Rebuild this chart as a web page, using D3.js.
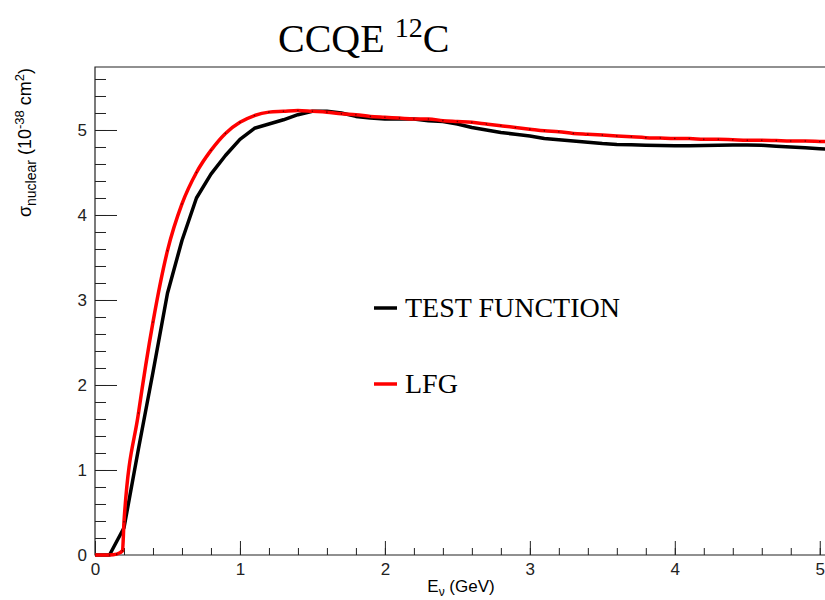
<!DOCTYPE html>
<html>
<head>
<meta charset="utf-8">
<script src="https://cdn.jsdelivr.net/npm/d3@7"></script>
<style>
  body { margin: 0; background: #fff; }
  .axis path { display: none; }
  .axis line { stroke: #222; stroke-width: 1; }
  .axis text { font-family: "Liberation Sans", Arial, sans-serif; font-size: 17px; fill: #222; }
</style>
</head>
<body>
<svg id="myGraph" width="825" height="600"></svg>
<script>
// data
var testEnergy = [0, 0.1, 0.2, 0.3, 0.4, 0.5, 0.6, 0.7, 0.8, 0.9, 1.0, 1.1, 1.2, 1.3, 1.4, 1.5, 1.6, 1.7, 1.8, 1.9,
                  2.0, 2.1, 2.2, 2.3, 2.4, 2.5, 2.6, 2.7, 2.8, 2.9, 3.0, 3.1, 3.2, 3.3, 3.4, 3.5, 3.6, 3.7, 3.8, 3.9,
                  4.0, 4.1, 4.2, 4.3, 4.4, 4.5, 4.6, 4.7, 4.8, 4.9, 5.0, 5.1];
var testXsec = [0, 0, 0.32, 1.25, 2.15, 3.08, 3.70, 4.20, 4.48, 4.70, 4.89, 5.02, 5.07, 5.12, 5.18, 5.22, 5.22, 5.20, 5.16, 5.14,
                5.13, 5.13, 5.13, 5.11, 5.10, 5.07, 5.03, 5.00, 4.97, 4.95, 4.93, 4.90, 4.885, 4.87, 4.855, 4.84, 4.83, 4.825, 4.82, 4.817,
                4.815, 4.815, 4.817, 4.82, 4.822, 4.822, 4.82, 4.81, 4.80, 4.79, 4.78, 4.77];

var lfgEnergy = [0, 0.1, 0.15, 0.19, 0.2, 0.3, 0.4, 0.5, 0.6, 0.7, 0.8, 0.9, 1.0, 1.1, 1.2, 1.3, 1.4, 1.5, 1.6, 1.7, 1.8, 1.9,
                 2.0, 2.1, 2.2, 2.3, 2.4, 2.5, 2.6, 2.7, 2.8, 2.9, 3.0, 3.1, 3.2, 3.3, 3.4, 3.5, 3.6, 3.7, 3.8, 3.9,
                 4.0, 4.1, 4.2, 4.3, 4.4, 4.5, 4.6, 4.7, 4.8, 4.9, 5.0, 5.1];
var lfgXsec = [0, 0, 0.01, 0.05, 0.39, 1.67, 2.74, 3.58, 4.13, 4.50, 4.76, 4.96, 5.09, 5.17, 5.21, 5.22, 5.23, 5.22, 5.21, 5.19, 5.18, 5.16,
               5.15, 5.14, 5.13, 5.13, 5.11, 5.10, 5.09, 5.07, 5.05, 5.03, 5.01, 4.99, 4.98, 4.96, 4.95, 4.94, 4.93, 4.92, 4.91, 4.905,
               4.90, 4.90, 4.89, 4.89, 4.885, 4.88, 4.88, 4.875, 4.87, 4.87, 4.865, 4.86];

var legendNames = ["TEST FUNCTION", "LFG"];
var xTicks = [0, 1, 2, 3, 4, 5];
var yTicks = [0, 1, 2, 3, 4, 5];

var svg = d3.select("#myGraph");

// plot frame (pixels)
var plotL = 95, plotR = 827, plotT = 67, plotB = 555;

var x = d3.scaleLinear().domain([0, 5.05]).range([plotL, plotR]);
var y = d3.scaleLinear().domain([0, 5.741]).range([plotB, plotT]);

// minor ticks (every 0.2), drawn first
svg.append("g")
  .attr("class", "axis")
  .attr("transform", "translate(0," + plotB + ")")
  .call(d3.axisBottom(x).tickValues(d3.range(0.2, 5.05, 0.2)).tickSizeInner(-7).tickSizeOuter(0).tickFormat(""));
svg.append("g")
  .attr("class", "axis")
  .attr("transform", "translate(" + plotL + ",0)")
  .call(d3.axisLeft(y).tickValues(d3.range(0.2, 5.7, 0.2)).tickSizeInner(-11).tickSizeOuter(0).tickFormat(""));

// major ticks with labels
svg.append("g")
  .attr("class", "axis")
  .attr("transform", "translate(0," + plotB + ")")
  .call(d3.axisBottom(x).tickValues(xTicks).tickSizeInner(-14).tickSizeOuter(0).tickPadding(8).tickFormat(d3.format("d")));
svg.append("g")
  .attr("class", "axis")
  .attr("transform", "translate(" + plotL + ",0)")
  .call(d3.axisLeft(y).tickValues(yTicks).tickSizeInner(-22).tickSizeOuter(0).tickPadding(8).tickFormat(d3.format("d")));

// frame lines
svg.append("path")
  .attr("d", "M" + plotR + "," + plotT + "H" + plotL + "V" + plotB + "H" + plotR)
  .attr("fill", "none")
  .attr("stroke", "#222")
  .attr("stroke-width", 1.2);

// clip region for curves
svg.append("clipPath").attr("id", "plotClip")
  .append("rect").attr("x", plotL).attr("y", plotT).attr("width", plotR - plotL).attr("height", plotB - plotT + 2);

var testLine = d3.line()
  .x(function(d, i) { return x(testEnergy[i]); })
  .y(function(d) { return y(d); });

var lfgLine = d3.line()
  .curve(d3.curveMonotoneX)
  .x(function(d, i) { return x(lfgEnergy[i]); })
  .y(function(d) { return y(d); });

var plot = svg.append("g").attr("clip-path", "url(#plotClip)");

plot.append("path")
  .attr("d", testLine(testXsec))
  .attr("fill", "none")
  .attr("stroke", "#000")
  .attr("stroke-width", 3.5)
  .attr("stroke-linejoin", "round");

plot.append("path")
  .attr("d", lfgLine(lfgXsec))
  .attr("fill", "none")
  .attr("stroke", "#ff0000")
  .attr("stroke-width", 3.5)
  .attr("stroke-linejoin", "round");

// tiny markers on the red points
plot.selectAll("circle.mark")
  .data(lfgXsec)
  .enter()
  .append("circle")
  .attr("class", "mark")
  .attr("cx", function(d, i) { return x(lfgEnergy[i]); })
  .attr("cy", function(d) { return y(d); })
  .attr("r", 0.8)
  .attr("fill", "#600");

// title
var title = svg.append("text")
  .attr("x", 278)
  .attr("y", 52)
  .attr("font-family", "'Liberation Serif', 'Times New Roman', serif")
  .attr("font-size", 40)
  .attr("fill", "#000");
title.append("tspan").text("CCQE ");
title.append("tspan").attr("font-size", 28).attr("dy", -15).text("12");
title.append("tspan").attr("dy", 15).text("C");

// x axis title (centred)
var xTitle = svg.append("text")
  .attr("x", (plotL + plotR) / 2)
  .attr("y", 592)
  .attr("text-anchor", "middle")
  .attr("font-family", "'Liberation Sans', Arial, sans-serif")
  .attr("font-size", 17)
  .attr("fill", "#000");
xTitle.append("tspan").text("E");
xTitle.append("tspan").attr("font-size", 12).attr("dy", 4).text("\u03bd");
xTitle.append("tspan").attr("dy", -4).text(" (GeV)");

// y axis title (at top end)
var yTitle = svg.append("text")
  .attr("transform", "translate(31," + (plotT + 1) + ") rotate(-90)")
  .attr("text-anchor", "end")
  .attr("font-family", "'Liberation Sans', Arial, sans-serif")
  .attr("font-size", 18)
  .attr("fill", "#000");
yTitle.append("tspan").text("\u03c3");
yTitle.append("tspan").attr("font-size", 14).attr("dy", 5).text("nuclear");
yTitle.append("tspan").attr("dy", -5).text(" (10");
yTitle.append("tspan").attr("font-size", 13).attr("dy", -7).text("-38");
yTitle.append("tspan").attr("dy", 7).text(" cm");
yTitle.append("tspan").attr("font-size", 13).attr("dy", -7).text("2");
yTitle.append("tspan").attr("dy", 7).text(")");

// legend
var legendColors = ["#000", "#ff0000"];
var legendY = [308, 384];
var legend = svg.selectAll("g.legend")
  .data(legendNames)
  .enter()
  .append("g")
  .attr("class", "legend")
  .attr("transform", function(d, i) { return "translate(374," + legendY[i] + ")"; });

legend.append("line")
  .attr("x1", 0).attr("x2", 23)
  .attr("stroke", function(d, i) { return legendColors[i]; })
  .attr("stroke-width", 3.5);

legend.append("text")
  .attr("x", 31)
  .attr("y", 9)
  .attr("font-family", "'Liberation Serif', 'Times New Roman', serif")
  .attr("font-size", 28)
  .attr("fill", "#000")
  .text(function(d) { return d; });
</script>
</body>
</html>
